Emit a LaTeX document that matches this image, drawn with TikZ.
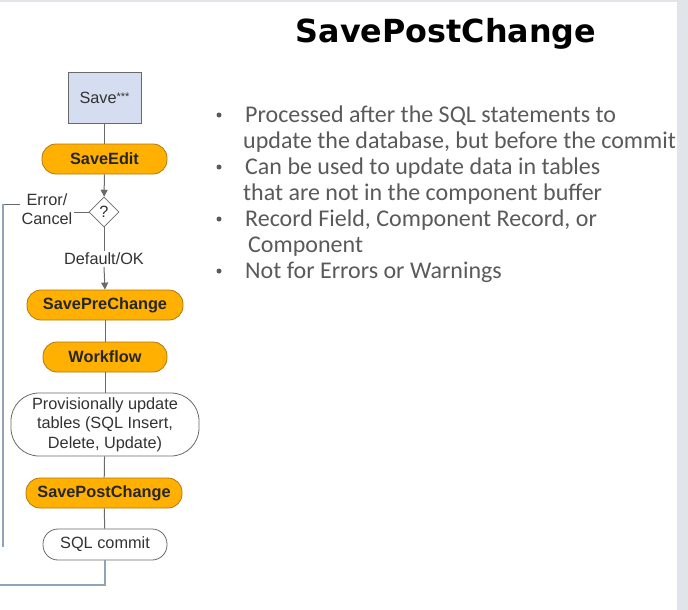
\documentclass[tikz,border=0pt]{standalone}
\usepackage{fontspec}
\setmainfont{Liberation Sans}
\newfontfamily\bulletfont{Carlito}
\newfontfamily\titlefont{DejaVu Sans}
\usetikzlibrary{shapes.geometric,arrows.meta}
\definecolor{bggray}{HTML}{E1E5E9}
\definecolor{orangefill}{HTML}{FFB000}
\definecolor{orangeline}{HTML}{B07A10}
\definecolor{savefill}{HTML}{D5DEF0}
\definecolor{linegray}{HTML}{6A6A6A}
\definecolor{loopblue}{HTML}{8FA4B6}
\definecolor{txtdark}{HTML}{333333}
\definecolor{bullettxt}{HTML}{5A5A5A}
\tikzset{
  flowtext/.style={font=\fontsize{16.3}{19.5}\selectfont, text=txtdark},
  pill/.style={draw=orangeline, line width=0.8pt, fill=orangefill, rounded corners=14pt,
     minimum height=30pt, inner sep=0pt, font=\fontsize{16.3}{19.5}\selectfont\bfseries, text=black!85},
  whitepill/.style={draw=linegray, line width=0.8pt, fill=white, rounded corners=15pt,
     minimum height=31pt, inner sep=0pt, flowtext},
  conn/.style={draw=linegray, line width=1pt},
  arr/.style={conn, -{Triangle[width=7pt,length=7pt]}},
  loopline/.style={draw=loopblue, line width=1.5pt},
  bline/.style={anchor=base west, inner sep=0pt, font=\bulletfont\fontsize{24}{26}\selectfont, text=bullettxt},
  bdot/.style={circle, fill=bullettxt, inner sep=0pt, minimum size=5pt},
}
\begin{document}
\begin{tikzpicture}[x=1pt,y=-1pt]
\fill[bggray] (0,0) rectangle (688,610);
\fill[white] (0,2) rectangle (677,610);
\useasboundingbox (0,0) rectangle (688,610);

% title
\node[anchor=base, inner sep=0pt, font=\titlefont\bfseries\fontsize{31.8}{36}\selectfont] (title) at (446,43) {SavePostChange};

% flowchart
\node[draw=linegray, line width=0.8pt, fill=savefill, minimum width=73pt, minimum height=51pt, inner sep=0pt, flowtext] (save) at (104.5,97.5) {Save\raisebox{2.5pt}{\fontsize{11}{11}\selectfont ***}};
\node[pill, minimum width=125pt] (edit) at (104.5,159) {SaveEdit};
\node[diamond, draw=linegray, line width=0.8pt, fill=white, minimum width=30pt, minimum height=30pt, inner sep=0pt, flowtext] (dia) at (104,212) {?};
\node[flowtext, align=center, inner sep=1pt] (err) at (47,209) {Error/\\Cancel};
\node[flowtext, inner sep=2pt] (ok) at (104,259) {Default/OK};
\node[pill, minimum width=156pt] (pre) at (105,305) {SavePreChange};
\node[pill, minimum width=124pt] (wf) at (105,357) {Workflow};
\node[whitepill, minimum width=188pt, minimum height=63pt, rounded corners=28pt, align=center] (prov) at (105,424.5) {Provisionally update\\tables (SQL Insert,\\Delete, Update)};
\node[pill, minimum width=156pt] (post) at (104,493) {SavePostChange};
\node[whitepill, minimum width=124pt] (commit) at (105,544.5) {SQL commit};

\draw[conn] (save) -- (edit);
\draw[arr] (edit) -- (dia);
\draw[conn] (dia.south) -- (ok.north);
\draw[arr] (ok.south) -- (pre.north);
\draw[conn] (pre) -- (wf);
\draw[conn] (wf) -- (prov);
\draw[conn] (prov) -- (post);
\draw[conn] (post) -- (commit);
\draw[conn] (dia.west) -- (err.east |- dia.west);

\coordinate (lt) at (3,204);
\coordinate (lb) at (3,547);
\coordinate (bl) at (0,585);
\draw[conn] (err.west |- lt) -- (lt);
\draw[loopline] (lt) -- (lb);
\draw[loopline] (bl) -- (commit.south |- bl) -- (commit.south);

% bullets
\foreach \y [count=\i] in {115,167,219,271} {\node[bdot] (dot\i) at (219,\y) {};}
\node[bline] (b1) at (245,122) {Processed after the SQL statements to};
\node[bline] (b2) at (243,148) {update the database, but before the commit};
\node[bline] (b3) at (245,174) {Can be used to update data in tables};
\node[bline] (b4) at (243,200) {that are not in the component buffer};
\node[bline] (b5) at (245,226) {Record Field, Component Record, or};
\node[bline] (b6) at (248,252) {Component};
\node[bline] (b7) at (245,278) {Not for Errors or Warnings};
\end{tikzpicture}
\end{document}
